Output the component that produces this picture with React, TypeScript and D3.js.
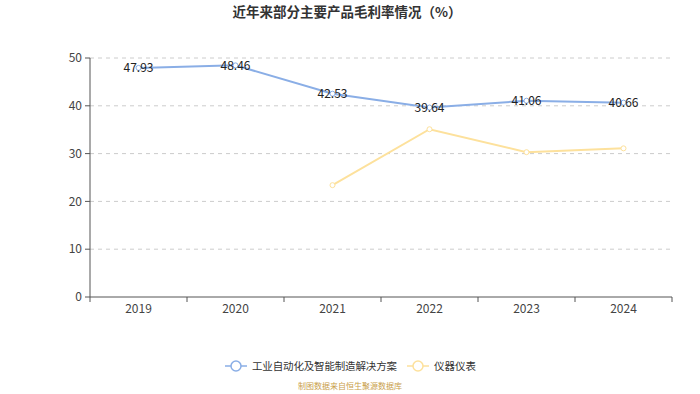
import React from "react";
import * as d3 from "d3";

const categories = ["2019", "2020", "2021", "2022", "2023", "2024"];
const seriesNames = ["工业自动化及智能制造解决方案", "仪器仪表"];
const industrial = [47.93, 48.46, 42.53, 39.64, 41.06, 40.66];
const instruments: (number | null)[] = [null, null, 23.4, 35.1, 30.3, 31.1];
const yTicks = [0, 10, 20, 30, 40, 50];

const W = 700, H = 394;
const left = 90, right = 672, top = 58, bottom = 297;
const colors = ["#8aaee6", "#fde19c"];
const font = "'Noto Sans CJK SC', 'Noto Sans', sans-serif";

export default function App() {
  const x = d3.scaleBand<string>().domain(categories).range([left, right]);
  const y = d3.scaleLinear().domain([0, 50]).range([bottom, top]);
  const cx = (c: string) => (x(c) as number) + x.bandwidth() / 2;
  const line = d3
    .line<number | null>()
    .defined((d) => d != null)
    .x((_, i) => cx(categories[i]))
    .y((d) => y(d as number));
  const series = [industrial, instruments];
  const tickXs = d3.range(categories.length + 1).map((i) => left + i * x.bandwidth());

  return (
    <svg width={W} height={H} style={{ position: "absolute", left: 0, top: 0, fontFamily: font }}>
      <rect width={W} height={H} fill="#fff" />
      <text x={347} y={17} textAnchor="middle" fontSize={13.5} fontWeight="bold" fill="#333">
        近年来部分主要产品毛利率情况（%）
      </text>
      {yTicks.map((t) => (
        <g key={t}>
          {t > 0 && (
            <line x1={left} x2={right} y1={y(t)} y2={y(t)} stroke="#ccc" strokeDasharray="4,4" />
          )}
          <line x1={left - 5} x2={left} y1={y(t)} y2={y(t)} stroke="#555" />
          <text x={left - 8} y={y(t)} dy="0.35em" textAnchor="end" fontSize={12} fill="#444">
            {t}
          </text>
        </g>
      ))}
      <line x1={left} x2={left} y1={top} y2={bottom} stroke="#555" />
      <line x1={left} x2={right} y1={bottom} y2={bottom} stroke="#555" />
      {tickXs.map((tx, i) => (
        <line key={i} x1={tx} x2={tx} y1={bottom} y2={bottom + 5} stroke="#555" />
      ))}
      {categories.map((c) => (
        <text key={c} x={cx(c)} y={bottom + 16} textAnchor="middle" fontSize={12} fill="#444">
          {c}
        </text>
      ))}
      {series.map((s, si) => (
        <g key={si}>
          <path d={line(s) || ""} fill="none" stroke={colors[si]} strokeWidth={2} />
          {s.map((v, i) =>
            v == null ? null : (
              <circle key={i} cx={cx(categories[i])} cy={y(v)} r={2.5} fill="#fff" stroke={colors[si]} strokeWidth={1} />
            )
          )}
        </g>
      ))}
      {industrial.map((v, i) => (
        <text key={i} x={cx(categories[i])} y={y(v)} dy="0.35em" textAnchor="middle" fontSize={12} fill="#222">
          {v.toFixed(2)}
        </text>
      ))}
      {/* legend */}
      <g>
        <line x1={225} x2={247} y1={366} y2={366} stroke={colors[0]} strokeWidth={1.5} />
        <circle cx={236} cy={366} r={5} fill="#fff" stroke={colors[0]} strokeWidth={1.5} />
        <text x={252} y={366} dy="0.35em" fontSize={10.5} textLength={145} fill="#333">{seriesNames[0]}</text>
        <line x1={407} x2={429} y1={366} y2={366} stroke={colors[1]} strokeWidth={1.5} />
        <circle cx={418} cy={366} r={5} fill="#fff" stroke={colors[1]} strokeWidth={1.5} />
        <text x={434} y={366} dy="0.35em" fontSize={10.5} textLength={42} fill="#333">{seriesNames[1]}</text>
      </g>
      <text x={350} y={389} textAnchor="middle" fontSize={8} fill="#c9a04a">
        制图数据来自恒生聚源数据库
      </text>
    </svg>
  );
}
